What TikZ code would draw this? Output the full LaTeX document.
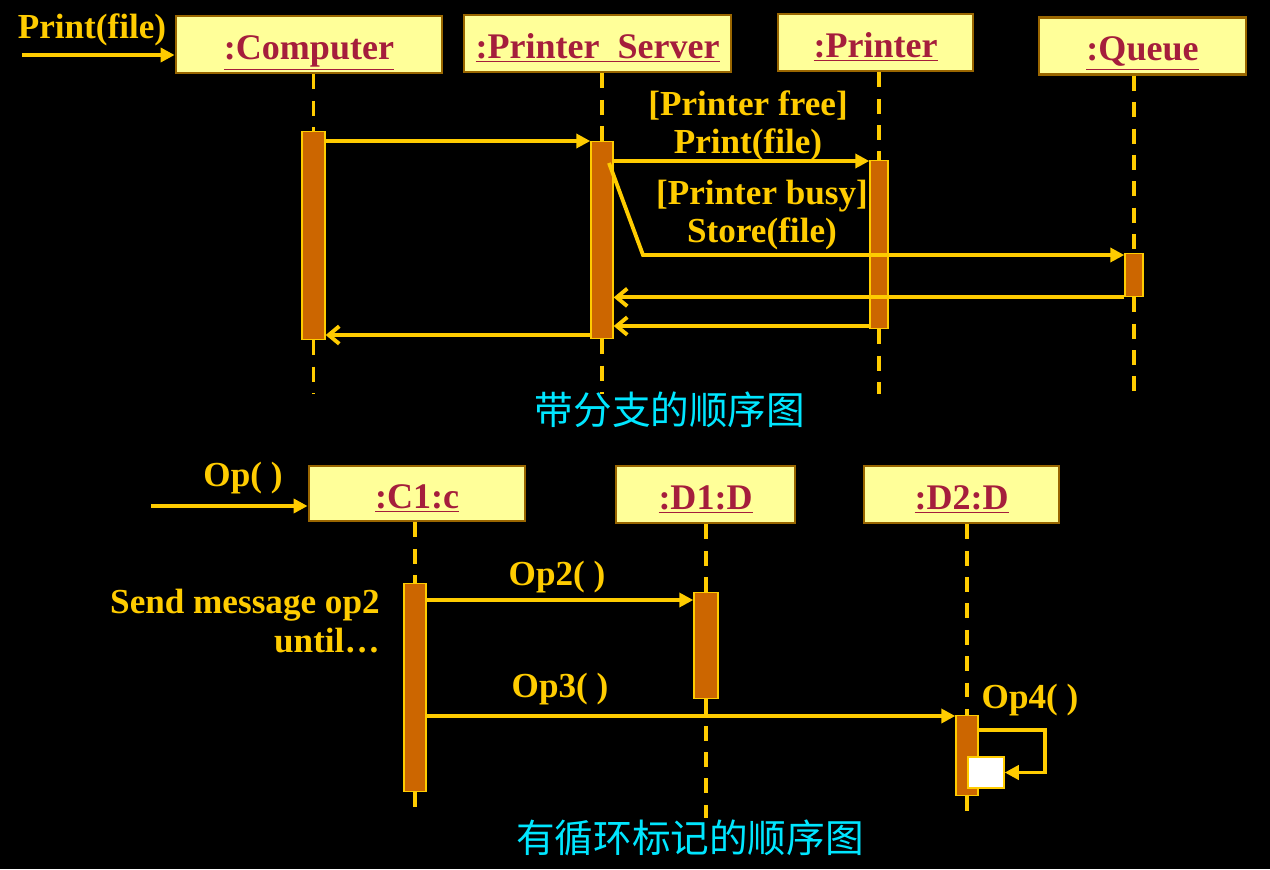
\documentclass[tikz,border=0pt]{standalone}
\usepackage{fontspec}
\setmainfont{Liberation Serif}
\newfontfamily\cjk{Noto Sans CJK SC}
\usetikzlibrary{arrows.meta}
\definecolor{lbl}{RGB}{255,204,0}
\definecolor{objfill}{RGB}{255,255,153}
\definecolor{objline}{RGB}{153,102,0}
\definecolor{objtext}{RGB}{165,30,60}
\definecolor{actfill}{RGB}{204,102,0}
\definecolor{captcol}{RGB}{0,230,255}
\newcommand{\objname}[1]{\raisebox{-8.5pt}[0pt][0pt]{\underline{#1}}}
\tikzset{
  obj/.style={draw=objline, line width=1.6pt, fill=objfill, text=objtext,
    font=\bfseries\fontsize{20.5}{24}\selectfont, inner sep=0pt, minimum height=1.14cm},
  act/.style={draw=lbl, line width=0.8pt, fill=actfill, inner sep=0pt, anchor=north},
  life/.style={draw=lbl, line width=2.2pt, dash pattern=on 8.5pt off 6.5pt},
  msg/.style={draw=lbl, line width=2.2pt, -{Triangle[length=8pt,width=8pt]}},
  ret/.style={draw=lbl, line width=2.2pt, -{Straight Barb[length=6pt,width=10pt]}},
  txt/.style={text=lbl, font=\bfseries\fontsize{20}{22}\selectfont, inner sep=0pt, align=center},
  capt/.style={text=captcol, font=\cjk\fontsize{22}{26}\selectfont, inner sep=0pt}
}
\begin{document}
\begin{tikzpicture}[x=0.02cm,y=-0.02cm]
\fill[black] (0,0) rectangle (1270,869);
\useasboundingbox (0,0) rectangle (1270,869);

% branching sequence diagram
\node[obj, minimum width=5.32cm] (oComp) at (309,44.5) {\objname{:Computer}};
\node[obj, minimum width=5.34cm] (oServ) at (597.5,43.5) {\objname{:Printer\ \ Server}};
\node[obj, minimum width=3.9cm] (oPrn) at (875.5,42.5) {\objname{:Printer}};
\node[obj, minimum width=4.14cm] (oQue) at (1142.5,46) {\objname{:Queue}};

\node[act, minimum width=0.46cm, minimum height=4.16cm] (aComp) at (313.5,131) {};
\node[act, minimum width=0.44cm, minimum height=3.94cm] (aServ) at (602,141) {};
\node[act, minimum width=0.36cm, minimum height=3.36cm] (aPrn) at (879,160) {};
\node[act, minimum width=0.36cm, minimum height=0.86cm] (aQue) at (1134,253) {};

\coordinate (eTop) at (0,394);
\draw[life] (aComp.north |- oComp.south) -- (aComp.north);
\draw[life] (aComp.south) -- (aComp.south |- eTop);
\draw[life] (aServ.north |- oServ.south) -- (aServ.north);
\draw[life] (aServ.south) -- (aServ.south |- eTop);
\draw[life] (aPrn.north |- oPrn.south) -- (aPrn.north);
\draw[life] (aPrn.south) -- (aPrn.south |- eTop);
\draw[life] (aQue.north |- oQue.south) -- (aQue.north);
\draw[life] (aQue.south) -- (aQue.south |- eTop);

\coordinate (inComp) at (22,55);
\node[txt] (lPrint) at (92,30) {Print(file)};
\draw[msg] (inComp) -- (oComp.west |- inComp);

\draw[msg] (aComp.east |- 0,141) -- (aServ.west |- 0,141);
\node[txt] (lFree) at (748,126) {[Printer free]\\Print(file)};
\draw[msg] (aServ.east |- 0,161) -- (aPrn.west |- 0,161);
\coordinate (bend) at (643,255);
\node[txt] (lBusy) at (762,215) {[Printer busy]\\Store(file)};
\draw[msg] (609,163) -- (bend) -- (aQue.west |- bend);
\draw[ret] (aQue.south west) -- (aServ.east |- aQue.south west);
\draw[ret] (aPrn.west |- 0,326) -- (aServ.east |- 0,326);
\draw[ret] (aServ.west |- 0,335) -- (aComp.east |- 0,335);

\node[capt] (cap1) at (670,410) {带分支的顺序图};

% loop sequence diagram
\node[obj, minimum width=4.32cm, minimum height=1.1cm] (oC1) at (417,493.5) {\objname{:C1:c}};
\node[obj, minimum width=3.58cm] (oD1) at (705.5,494.5) {\objname{:D1:D}};
\node[obj, minimum width=3.9cm] (oD2) at (961.5,494.5) {\objname{:D2:D}};

\node[act, minimum width=0.44cm, minimum height=4.16cm] (aC1) at (415,583) {};
\node[act, minimum width=0.48cm, minimum height=2.12cm] (aD1) at (706,592) {};
\node[act, minimum width=0.44cm, minimum height=1.6cm] (aD2) at (967,715) {};

\coordinate (eBot) at (0,818);
\draw[life] (aC1.north |- oC1.south) -- (aC1.north);
\draw[life] (aC1.south) -- (aC1.south |- eBot);
\draw[life] (aD1.north |- oD1.south) -- (aD1.north);
\draw[life] (aD1.south) -- (aD1.south |- eBot);
\draw[life] (aD2.north |- oD2.south) -- (aD2.north);
\draw[life] (aD2.south) -- (aD2.south |- eBot);

\coordinate (inC1) at (151,506);
\node[txt] (lOp) at (243,478) {Op( )};
\draw[msg] (inC1) -- (oC1.west |- inC1);

\node[txt, align=right, anchor=east] (lSend) at (380,621) {Send message op2\\until…};
\node[txt] (lOp2) at (557,577) {Op2( )};
\draw[msg] (aC1.east |- 0,600) -- (aD1.west |- 0,600);
\node[txt] (lOp3) at (560,689) {Op3( )};
\draw[msg] (aC1.east |- 0,716) -- (aD2.west |- 0,716);

\node[txt] (lOp4) at (1030,700) {Op4( )};
\node[draw=lbl, line width=0.8pt, fill=white, minimum width=0.72cm, minimum height=0.62cm] (wBox) at (986,772.5) {};
\draw[msg] (aD2.east |- 0,730) -- ++(66,0) |- (wBox.east);

\node[capt] (cap2) at (690,838) {有循环标记的顺序图};
\end{tikzpicture}
\end{document}
